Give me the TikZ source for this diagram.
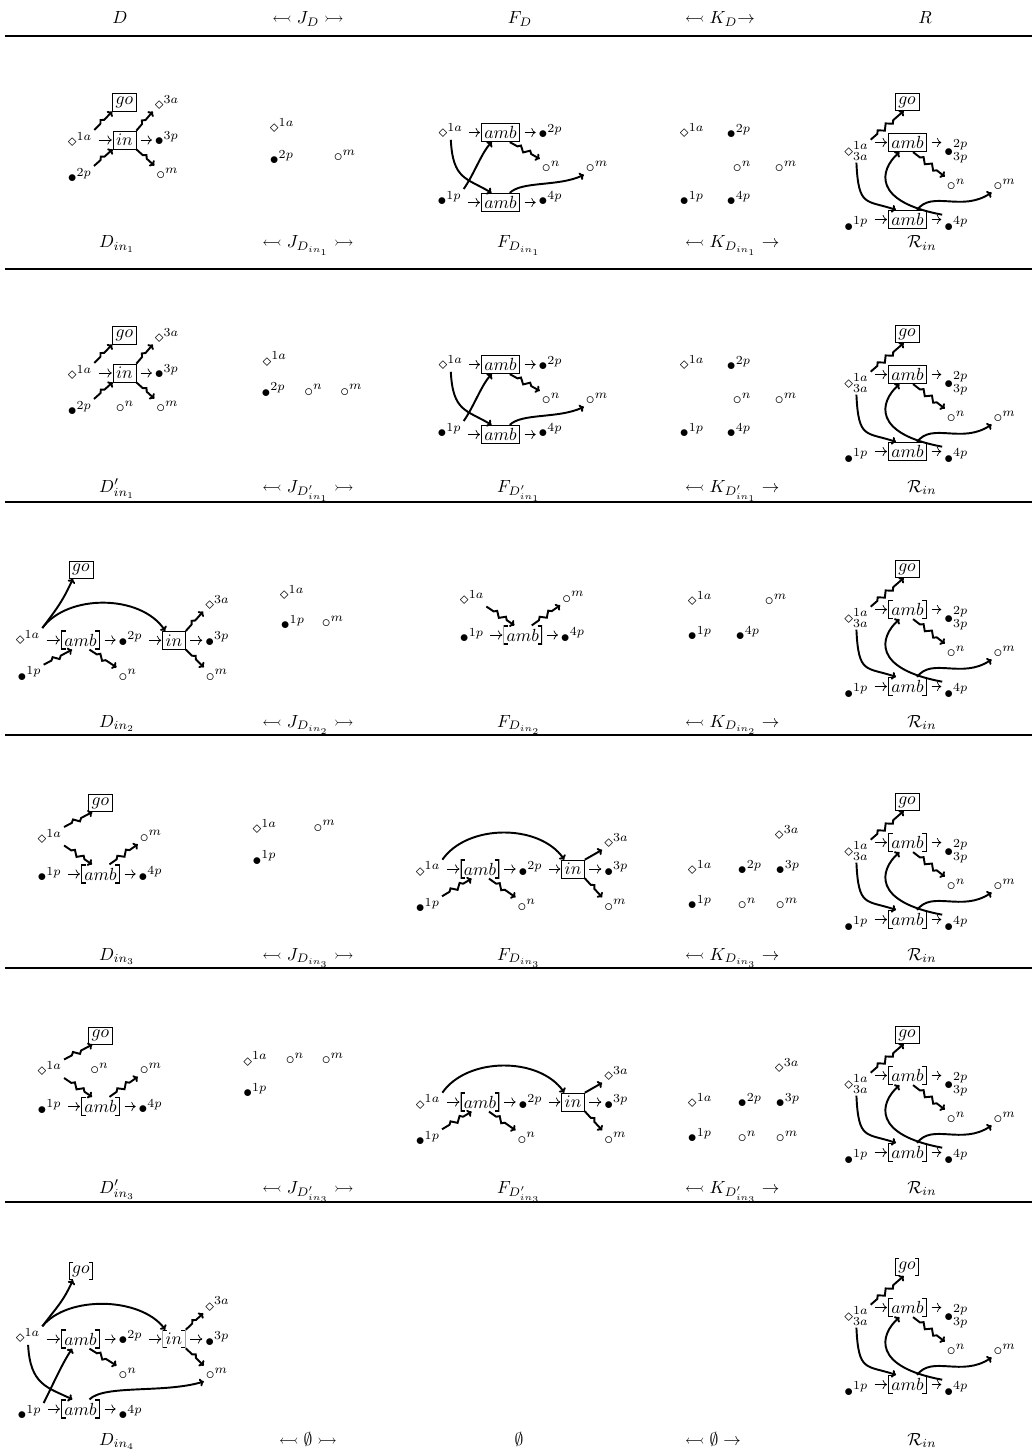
\documentclass[tikz,border=0pt]{standalone}
\usepackage{amssymb}
\usetikzlibrary{arrows.meta,decorations.pathmorphing}
\begin{document}
\begin{tikzpicture}[x=0.02cm, y=-0.02cm,
  sym/.style={inner sep=1pt, anchor=base west, xshift=-3.5pt, yshift=-2.5pt},
  bx/.style={draw, inner sep=1.8pt},
  brk/.style={draw, draw opacity=0, inner sep=1.8pt,
    path picture={\draw[draw opacity=1, line width=1pt]
      ([xshift=2.5pt]path picture bounding box.north west) -| (path picture bounding box.south west) -- ++(2.5pt,0)
      ([xshift=-2.5pt]path picture bounding box.north east) -| (path picture bounding box.south east) -- ++(-2.5pt,0);}},
  st/.style={->, shorten <=2.5pt, shorten >=0.5pt},
  squig/.style={line width=1.1pt, -{To[length=2.5pt, width=4.5pt]}, decorate,
    decoration={zigzag, segment length=6pt, amplitude=1.4pt, pre length=5pt, post length=5pt}},
  curv/.style={line width=1.1pt, -{To[length=2.5pt, width=4.5pt]}},
  lab/.style={anchor=base}]
\useasboundingbox (0,0) rectangle (1032,1456);

% Header
\node[lab] (hD) at (120,24) {$D$};
\node[lab] (hJ) at (308,24) {$\leftarrowtail J_D \rightarrowtail$};
\node[lab] (hF) at (520,24) {$F_D$};
\node[lab, anchor=base west] (hK) at (679,24) {$\leftarrowtail K_D{\rightarrow}$};
\node[lab] (hR) at (925,24) {$R$};
\draw[line width=1.1pt] (5,36) -- (1032,36);

% Row labels and rules
\foreach \y/\d in {248/D_{in_1}, 492/D'_{in_1}, 727/D_{in_2}, 960/D_{in_3}, 1193/D'_{in_3}}{
  \node[lab] at (117,\y) {$\d$};
  \node[lab] at (308,\y) {$\leftarrowtail J_{\d} \rightarrowtail$};
  \node[lab] at (519,\y) {$F_{\d}$};
  \node[lab, anchor=base west] at (679,\y) {$\leftarrowtail K_{\d} \rightarrow$};
  \node[lab] at (922,\y) {$\mathcal{R}_{in}$};
}
\node[lab] (l6D) at (117,1445) {$D_{in_4}$};
\node[lab] (l6J) at (308,1445) {$\leftarrowtail \emptyset \rightarrowtail$};
\node[lab] (l6F) at (519,1445) {$\emptyset$};
\node[lab, anchor=base west] (l6K) at (679,1445) {$\leftarrowtail \emptyset \rightarrow$};
\node[lab] (l6R) at (922,1445) {$\mathcal{R}_{in}$};
\foreach \y in {269,502,735,968,1202}
  \draw[line width=0.8pt] (5,\y) -- (1032,\y);

% D and D'
\foreach \dy in {0,233}{
  \begin{scope}[shift={(0,\dy)}]
    \node[bx] (go) at (124.5,102.5) {$go$};
    \node[bx] (in) at (124.5,140) {$in$};
    \node[sym] (a1) at (72,142) {$\diamond^{1a}$};
    \node[sym] (p2) at (72,178) {$\bullet^{2p}$};
    \node[sym] (a3) at (159,105) {$\diamond^{3a}$};
    \node[sym] (p3) at (159,141) {$\bullet^{3p}$};
    \node[sym] (m) at (160.5,175) {$\circ^{m}$};
    \draw[st] (in.west -| a1.east) -- (in.west);
    \draw[st] (in.east) -- (in.east -| p3.west);
    \draw[squig] (a1.north east) -- (go.south west);
    \draw[squig] (p2.north east) -- (in.south west);
    \draw[squig] (in.north east) -- (a3.south west);
    \draw[squig] (in.south east) -- (m.north west);
  \end{scope}}
\node[sym] (n) at (120,408) {$\circ^{n}$};

% J and J'
\node[sym] (ja1) at (274,128) {$\diamond^{1a}$};
\node[sym] (jp2) at (274,160) {$\bullet^{2p}$};
\node[sym] (jm) at (338,157) {$\circ^{m}$};
\node[sym] (ja1) at (266.7,361.7) {$\diamond^{1a}$};
\node[sym] (jp2) at (265.7,392.7) {$\bullet^{2p}$};
\node[sym] (jn) at (308.3,391.7) {$\circ^{n}$};
\node[sym] (jm) at (344.3,391.7) {$\circ^{m}$};

% F_D
\foreach \dy in {0,232}{
  \begin{scope}[shift={(0,\dy)}]
    \node[sym] (a1) at (442.7,133.3) {$\diamond^{1a}$};
    \node[bx] (amb1) at (500.5,132.5) {$amb$};
    \node[sym] (p2) at (542.7,134.3) {$\bullet^{2p}$};
    \node[sym] (n) at (546,168.3) {$\circ^{n}$};
    \node[sym] (m) at (590,168.3) {$\circ^{m}$};
    \node[sym] (p1) at (441.7,201) {$\bullet^{1p}$};
    \node[bx] (amb2) at (500.5,202.5) {$amb$};
    \node[sym] (p4) at (542.7,201) {$\bullet^{4p}$};
    \draw[st] (amb1.west -| a1.east) -- (amb1.west);
    \draw[st] (amb1.east) -- (amb1.east -| p2.west);
    \draw[st] (amb2.west -| p1.east) -- (amb2.west);
    \draw[st] (amb2.east) -- (amb2.east -| p4.west);
    \draw[curv] (a1.south) .. controls +(2,40) and +(-25,-15) .. (amb2.133);
    \draw[curv] (p1.north east) .. controls +(10,-14) and +(-10,10) .. (amb1.228);
    \draw[squig] (amb1.314) -- (n.north west);
    \draw[curv] (amb2.46) .. controls +(12,-12) and +(-25,12) .. (m.south west);
  \end{scope}}

% K_D
\foreach \dy in {0,232}{
  \begin{scope}[shift={(0,\dy)}]
    \node[sym] (ka1) at (684,133) {$\diamond^{1a}$};
    \node[sym] (kp2) at (731,134) {$\bullet^{2p}$};
    \node[sym] (kn) at (737,168) {$\circ^{n}$};
    \node[sym] (km) at (779,168) {$\circ^{m}$};
    \node[sym] (kp1) at (684,201) {$\bullet^{1p}$};
    \node[sym] (kp4) at (731,201) {$\bullet^{4p}$};
  \end{scope}}

% R
\foreach \dy/\gs/\as in {0/bx/bx, 232/bx/bx, 467/bx/brk, 700/bx/brk, 933/bx/brk, 1165/brk/brk}{
  \begin{scope}[shift={(0,\dy)}]
    \node[\gs] (go) at (907,102) {$go$};
    \node[\as] (amb1) at (907.5,142.5) {$amb$};
    \node[\as] (amb2) at (907.5,219.5) {$amb$};
    \node[sym] (a1) at (848.3,151.7) {$\diamond^{1a}_{3a}$};
    \node[sym] (p2) at (948.3,151.7) {$\bullet^{2p}_{3p}$};
    \node[sym] (n) at (951,186) {$\circ^{n}$};
    \node[sym] (m) at (997.7,186) {$\circ^{m}$};
    \node[sym] (p1) at (848.3,226.7) {$\bullet^{1p}$};
    \node[sym] (p4) at (948.3,226.7) {$\bullet^{4p}$};
    \draw[st] (amb1.west -| a1.east) -- (amb1.west);
    \draw[st] (amb1.east) -- (amb1.east -| p2.west);
    \draw[st] (amb2.west -| p1.east) -- (amb2.west);
    \draw[st] (amb2.east) -- (amb2.east -| p4.west);
    \draw[squig] (a1.north east) -- (go.250);
    \draw[squig] (amb1.300) -- (n.north west);
    \draw[curv] (a1.south) .. controls +(2,45) and +(-30,-10) .. (amb2.140);
    \draw[curv] (p4.north west) .. controls +(-70,-13) and +(-20,18) .. (amb1.230);
    \draw[curv] (amb2.45) .. controls +(15,-20) and +(-30,20) .. (m.south west);
  \end{scope}}

% D_in2
\node[bx] (go) at (81,569.7) {$go$};
\node[sym] (a1) at (20,640) {$\diamond^{1a}$};
\node[brk] (amb) at (80.5,640) {$amb$};
\node[sym] (p2) at (122.7,641.7) {$\bullet^{2p}$};
\node[bx] (in) at (174,640.3) {$in$};
\node[sym] (a3) at (209.3,605) {$\diamond^{3a}$};
\node[sym] (p3) at (209.3,641.7) {$\bullet^{3p}$};
\node[sym] (p1) at (21.7,676.7) {$\bullet^{1p}$};
\node[sym] (n) at (122.7,676.7) {$\circ^{n}$};
\node[sym] (m) at (210,676.7) {$\circ^{m}$};
\draw[st] (amb.west -| a1.east) -- (amb.west);
\draw[st] (amb.east) -- (amb.east -| p2.west);
\draw[st] (in.west -| p2.east) -- (in.west);
\draw[st] (in.east) -- (in.east -| p3.west);
\draw[curv] (a1.north east) .. controls +(15,-20) and +(-10,22) .. (go.228);
\draw[curv] (a1.north east) .. controls +(25,-34) and +(-25,-37) .. (in.133);
\draw[squig] (p1.north east) -- (amb.229);
\draw[squig] (amb.313) -- (n.north west);
\draw[squig] (in.north east) -- (a3.south west);
\draw[squig] (in.south east) -- (m.north west);

% J_in2
\node[sym] (ja1) at (284,595) {$\diamond^{1a}$};
\node[sym] (jp1) at (285,625) {$\bullet^{1p}$};
\node[sym] (jm) at (326,623) {$\circ^{m}$};

% F_in2
\node[sym] (a1) at (464,600) {$\diamond^{1a}$};
\node[sym] (m) at (566.3,598.7) {$\circ^{m}$};
\node[sym] (p1) at (464,638.3) {$\bullet^{1p}$};
\node[brk] (amb) at (522.8,635) {$amb$};
\node[sym] (p4) at (565,637.7) {$\bullet^{4p}$};
\draw[st] (amb.west -| p1.east) -- (amb.west);
\draw[st] (amb.east) -- (amb.east -| p4.west);
\draw[squig] (a1.south east) -- (amb.131);
\draw[squig] (amb.47) -- (m.south west);

% K_in2
\node[sym] (ka1) at (692,601) {$\diamond^{1a}$};
\node[sym] (km) at (769,601) {$\circ^{m}$};
\node[sym] (kp1) at (692,636) {$\bullet^{1p}$};
\node[sym] (kp4) at (740,636) {$\bullet^{4p}$};

% D_in3 and D'_in3
\foreach \dy in {0,232.5}{
  \begin{scope}[shift={(0,\dy)}]
    \node[bx] (go) at (100.5,803) {$go$};
    \node[sym] (a1) at (41.7,839) {$\diamond^{1a}$};
    \node[sym] (m) at (144,837.7) {$\circ^{m}$};
    \node[sym] (p1) at (41.7,877.3) {$\bullet^{1p}$};
    \node[brk] (amb) at (100.5,874) {$amb$};
    \node[sym] (p4) at (142.7,876.7) {$\bullet^{4p}$};
    \draw[st] (amb.west -| p1.east) -- (amb.west);
    \draw[st] (amb.east) -- (amb.east -| p4.west);
    \draw[squig] (a1.north east) -- (go.228);
    \draw[squig] (a1.south east) -- (amb.131);
    \draw[squig] (amb.47) -- (m.south west);
  \end{scope}}
\node[sym] (n) at (94.3,1070) {$\circ^{n}$};

% J_in3 and J'_in3
\node[sym] (ja1) at (256.7,829.3) {$\diamond^{1a}$};
\node[sym] (jm) at (317.7,827.7) {$\circ^{m}$};
\node[sym] (jp1) at (256.7,860.7) {$\bullet^{1p}$};
\node[sym] (ja1) at (247.3,1061.7) {$\diamond^{1a}$};
\node[sym] (jn) at (290,1060) {$\circ^{n}$};
\node[sym] (jm) at (326,1060) {$\circ^{m}$};
\node[sym] (jp1) at (247.3,1093.3) {$\bullet^{1p}$};

% F_in3 and F'_in3
\foreach \dy in {0,233}{
  \begin{scope}[shift={(0,\dy)}]
    \node[sym] (a1) at (420,871.7) {$\diamond^{1a}$};
    \node[brk] (amb) at (480,869) {$amb$};
    \node[sym] (p2) at (522.7,871.7) {$\bullet^{2p}$};
    \node[bx] (in) at (573,869) {$in$};
    \node[sym] (a3) at (608.3,843.3) {$\diamond^{3a}$};
    \node[sym] (p3) at (608.3,871.7) {$\bullet^{3p}$};
    \node[sym] (m) at (608.3,906.7) {$\circ^{m}$};
    \node[sym] (p1) at (420,908.3) {$\bullet^{1p}$};
    \node[sym] (n) at (521.7,906.7) {$\circ^{n}$};
    \draw[st] (amb.west -| a1.east) -- (amb.west);
    \draw[st] (amb.east) -- (amb.east -| p2.west);
    \draw[st] (in.west -| p2.east) -- (in.west);
    \draw[st] (in.east) -- (in.east -| p3.west);
    \draw[curv] (a1.north east) .. controls +(25,-36) and +(-25,-36) .. (in.133);
    \draw[squig] (p1.north east) -- (amb.229);
    \draw[squig] (amb.313) -- (n.north west);
    \draw[squig] (in.north east) -- (a3.south west);
    \draw[squig] (in.south east) -- (m.north west);
  \end{scope}}

% K_in3 and K'_in3
\foreach \dy in {0,233}{
  \begin{scope}[shift={(0,\dy)}]
    \node[sym] (ka3) at (779,835) {$\diamond^{3a}$};
    \node[sym] (ka1) at (692,870) {$\diamond^{1a}$};
    \node[sym] (kp2) at (742,870) {$\bullet^{2p}$};
    \node[sym] (kp3) at (780,870) {$\bullet^{3p}$};
    \node[sym] (kp1) at (692,905) {$\bullet^{1p}$};
    \node[sym] (kn) at (742,905) {$\circ^{n}$};
    \node[sym] (km) at (780,905) {$\circ^{m}$};
  \end{scope}}

% D_in4
\node[brk] (go) at (81,1271) {$go$};
\node[sym] (a1) at (20,1338.3) {$\diamond^{1a}$};
\node[brk] (amb1) at (80.5,1339) {$amb$};
\node[sym] (p2) at (122.7,1340) {$\bullet^{2p}$};
\node[brk] (in) at (174,1339) {$in$};
\node[sym] (a3) at (209.3,1306.7) {$\diamond^{3a}$};
\node[sym] (p3) at (209.3,1341.7) {$\bullet^{3p}$};
\node[sym] (n) at (122.7,1375) {$\circ^{n}$};
\node[sym] (m) at (210,1375) {$\circ^{m}$};
\node[sym] (p1) at (21.7,1415) {$\bullet^{1p}$};
\node[brk] (amb2) at (80.5,1409) {$amb$};
\node[sym] (p4) at (122.7,1415) {$\bullet^{4p}$};
\draw[st] (amb1.west -| a1.east) -- (amb1.west);
\draw[st] (amb1.east) -- (amb1.east -| p2.west);
\draw[st] (in.west -| p2.east) -- (in.west);
\draw[st] (in.east) -- (in.east -| p3.west);
\draw[st] (amb2.west -| p1.east) -- (amb2.west);
\draw[st] (amb2.east) -- (amb2.east -| p4.west);
\draw[curv] (a1.north east) .. controls +(15,-20) and +(-10,22) .. (go.228);
\draw[curv] (a1.north east) .. controls +(25,-31) and +(-25,-33) .. (in.133);
\draw[curv] (a1.south) .. controls +(2,40) and +(-25,-12) .. (amb2.130);
\draw[curv] (p1.north east) .. controls +(10,-20) and +(-10,15) .. (amb1.229);
\draw[squig] (amb1.313) -- (n.north west);
\draw[squig] (in.north east) -- (a3.south west);
\draw[squig] (in.south east) -- (m.north west);
\draw[curv] (amb2.47) .. controls +(15,-15) and +(-40,12) .. (m.south west);
\end{tikzpicture}
\end{document}
